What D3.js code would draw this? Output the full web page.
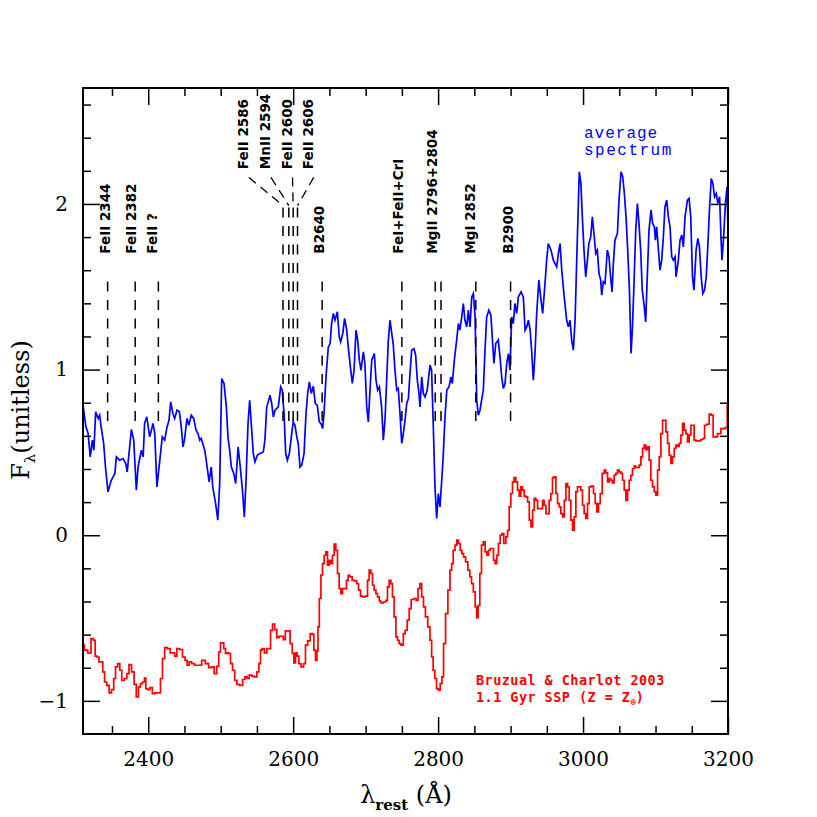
<!DOCTYPE html>
<html><head><meta charset="utf-8">
<script src="https://cdn.jsdelivr.net/npm/d3@7"></script>
<style>body{margin:0;background:#fff}svg{display:block}</style>
</head><body>
<script>
// ---- data ----
const blueWave = [2310,2314,2317,2320,2323,2325,2327.5,2331,2333,2335,2338.5,2341,2344.5,2349,2354,2356,2360.6,2365,2369,2371,2374.4,2376.7,2380,2383.6,2386,2390.5,2393,2395,2398,2402,2406.6,2409,2412,2416,2419.4,2422.7,2426,2428.7,2431,2434,2436.5,2439.7,2443,2445.6,2448,2450,2453.5,2456,2459.4,2462.7,2466,2468.7,2471,2473,2478,2480,2484,2487,2489,2493,2496,2498.6,2501.4,2504.6,2507.8,2510,2512.4,2514.7,2518,2520.7,2524,2527,2530,2532.6,2535,2537.7,2540,2542.8,2545,2547.3,2550.5,2554,2558.8,2561,2563.5,2565.7,2568,2570.4,2572.6,2575,2579.5,2582.8,2585,2587.4,2589.7,2592,2594.7,2598,2600,2602.5,2605,2607,2609.4,2611.8,2615,2617.7,2620,2622.3,2625,2627.8,2630.5,2633.3,2636,2638.4,2640.7,2642.6,2645.3,2648.5,2651,2653,2655.4,2657.7,2661,2663.6,2665.5,2668.4,2671,2673.9,2676,2678.4,2681.6,2684,2686.7,2689,2691.3,2693.6,2696.8,2699,2701.5,2703.7,2706,2708.4,2712,2714.3,2716.6,2719,2722,2724.4,2726.7,2729,2731.3,2733.6,2736,2738,2740.5,2742.9,2745,2747.4,2749.8,2752,2754.3,2756.7,2759,2761.2,2763.5,2766.7,2769,2771.3,2773.6,2775,2777.4,2779.6,2782,2785,2788.8,2791,2793.4,2795.7,2798,2800.3,2802.6,2805,2807,2809.5,2812,2815,2817.8,2819.6,2822.4,2825.6,2828,2830,2832.6,2834.8,2837,2839.5,2841.7,2844,2846.4,2848.6,2851,2853.3,2855.5,2857.8,2860,2862.4,2864.7,2867,2870,2872.8,2875.3,2877,2879.5,2883,2885.4,2887.7,2890,2892.3,2894.7,2897,2899.2,2901.5,2903.8,2906,2908.5,2910.7,2914.4,2917.6,2920,2922.3,2924.6,2927,2929,2931.4,2933.7,2936,2939,2942,2944.3,2947.5,2949.8,2952,2955.8,2959,2963.6,2966,2968.3,2970.6,2974,2977.4,2979.6,2982,2984.3,2986.6,2989,2991,2993,2994.8,2997,2999,3001.3,3003.7,3006,3008,3010.6,3012.8,3015,3017.5,3019.7,3022,3024.4,3025.7,3028,3030.3,3033.5,3035.8,3038,3040,3041.8,3044,3047.4,3049.6,3052.4,3054.7,3057,3059.3,3061.6,3064,3066.2,3068,3070.3,3072.7,3075,3077.2,3079.5,3081.7,3084.5,3086.4,3088.6,3091,3093.8,3096,3098.4,3099.8,3101.6,3104,3106.2,3108.5,3110.8,3113,3115.4,3117.7,3120,3122.3,3124.6,3127,3128.3,3131.5,3133.8,3136.2,3138.4,3140.7,3144,3146.3,3148.6,3151,3153,3156,3158.4,3160.6,3163,3165.3,3167.6,3170,3172.3,3174.6,3176.9,3179.2,3181.4,3183.8,3186,3188.4,3190.3,3191.7,3194,3196.4,3198.7,3200];
const blueFlux = [0.785,0.654,0.616,0.473,0.574,0.513,0.745,0.705,0.725,0.654,0.554,0.412,0.262,0.332,0.373,0.473,0.453,0.463,0.433,0.382,0.533,0.638,0.574,0.272,0.412,0.513,0.473,0.675,0.715,0.594,0.675,0.614,0.292,0.453,0.594,0.574,0.654,0.694,0.805,0.735,0.705,0.755,0.745,0.654,0.533,0.574,0.705,0.664,0.725,0.705,0.634,0.614,0.574,0.584,0.513,0.453,0.322,0.412,0.292,0.191,0.091,0.312,0.946,0.916,0.775,0.594,0.513,0.412,0.373,0.312,0.533,0.412,0.272,0.111,0.332,0.675,0.815,0.634,0.493,0.443,0.483,0.493,0.503,0.574,0.775,0.805,0.845,0.795,0.714,0.755,0.775,0.896,0.876,0.735,0.493,0.453,0.493,0.614,0.684,0.664,0.594,0.554,0.412,0.423,0.493,0.735,0.856,0.926,0.856,0.900,0.795,0.785,0.684,0.674,0.644,0.735,0.956,1.137,1.157,1.278,1.339,1.298,1.349,1.197,1.167,1.218,1.309,1.238,1.137,1.037,0.916,0.996,1.238,1.178,1.057,0.996,1.107,1.037,0.775,0.684,0.876,1.057,1.097,0.936,0.876,0.896,0.775,0.574,0.694,0.936,1.178,1.298,1.218,1.157,0.996,0.876,0.886,0.735,0.554,0.614,0.694,0.795,0.825,0.976,1.117,1.127,1.087,0.936,0.856,0.775,0.956,0.856,0.835,0.876,1.027,0.996,0.654,0.292,0.101,0.252,0.171,0.332,0.473,0.714,0.876,0.896,0.956,0.916,1.057,1.178,1.278,1.238,1.318,1.399,1.298,1.258,1.359,1.258,1.439,1.459,1.318,0.815,0.725,0.755,0.815,0.876,1.117,1.318,1.359,1.329,1.157,1.037,1.157,1.178,1.077,0.956,0.886,0.916,1.037,1.097,0.996,1.318,1.278,1.399,1.339,1.439,1.469,1.439,1.238,1.258,1.298,1.238,1.117,0.936,1.097,1.339,1.540,1.419,1.339,1.520,1.661,1.761,1.721,1.661,1.620,1.701,1.761,1.600,1.439,1.298,1.258,1.298,1.178,1.117,1.298,1.620,1.922,2.194,2.124,1.922,1.721,1.560,1.661,1.761,1.801,1.922,1.822,1.701,1.721,1.580,1.540,1.449,1.530,1.520,1.721,1.681,1.560,1.469,1.641,1.781,1.822,2.023,2.194,2.164,2.063,1.922,1.721,1.479,1.097,1.238,1.520,1.842,2.003,1.880,1.720,1.479,1.379,1.288,1.560,1.842,1.963,1.882,1.862,1.781,1.862,1.721,1.600,1.661,1.801,1.982,2.023,1.922,1.862,1.681,1.661,1.681,1.560,1.661,1.781,1.812,1.741,1.922,2.023,2.033,1.922,1.560,1.479,1.721,1.792,1.741,1.560,1.459,1.479,1.560,1.761,1.982,2.154,2.124,2.043,2.063,2.003,2.043,1.801,1.661,1.801,2.003,2.103,1.842];

const redWave = [2310,2314,2319,2323,2326,2327.5,2331,2333,2336,2338.5,2341,2344.5,2347.7,2351,2353.7,2356,2359.7,2362,2365,2369,2372,2375,2379,2382,2385,2388,2390.5,2393.7,2396,2397.4,2401,2404,2407.5,2411,2415.8,2418,2421.4,2424,2428.7,2432,2435,2438,2441,2445.6,2449,2452.6,2455,2458,2462,2466,2471,2476.5,2481,2485.7,2489,2493,2496,2498.6,2500.8,2503,2505.5,2507.8,2510,2512.4,2514.7,2518,2520.7,2524,2528.5,2532,2535,2537.7,2541,2544.6,2548.3,2551.5,2553.8,2556,2558.4,2562,2565.3,2567.6,2570,2573,2576,2579,2582,2585,2587.8,2590.6,2594,2597.5,2600,2602,2604.4,2606.7,2609,2612.6,2616,2618,2622,2625,2627.4,2629.7,2632,2633.5,2635,2637.2,2639.4,2641.6,2644,2646.3,2648.5,2650.8,2653.2,2655.4,2657.7,2660,2662.3,2664.6,2667,2669.2,2672.5,2674.7,2677,2679.8,2683,2686.3,2689,2691.3,2694.6,2698,2701.5,2703.7,2706,2708.4,2710.6,2713,2715.3,2717.6,2720,2722,2726.7,2729,2731.3,2733.6,2736,2738,2740.5,2743,2745,2747.4,2750.6,2753.4,2755.7,2759,2761.2,2764.4,2768,2771,2773.6,2776,2778.7,2781,2784,2787.4,2790.2,2792,2794.3,2796.7,2799,2801.7,2804,2806.4,2808.6,2812,2815,2817.8,2819.6,2822,2824.7,2827,2829.3,2831.6,2834,2836.2,2839.5,2842.6,2845,2847.2,2850,2852.3,2854,2856.4,2858.7,2861,2863.7,2866,2868.4,2870.6,2873,2875.3,2877.5,2879.9,2882,2884.5,2886.8,2889,2892.3,2894.7,2897,2899.2,2901.5,2903.8,2906,2908.5,2910.7,2913,2915.4,2917.6,2920,2922.3,2924.6,2927,2929.3,2931.5,2933.7,2936,2938.5,2940.6,2943,2945.3,2947.5,2950,2952,2954.4,2956.7,2959,2961.3,2963.6,2966,2968.2,2970.6,2973,2975.2,2977.5,2979.7,2982,2984.3,2986.6,2989,2991.2,2993.5,2995.8,2998,3000.4,3002.7,3005,3007.3,3009.6,3013.3,3015.5,3018,3020,3022.6,3024.8,3028,3030.3,3032.6,3035,3037.3,3039.5,3041.8,3044,3046.4,3048.7,3051,3053.3,3055.6,3058,3060.3,3062.5,3064.8,3067,3069.4,3071.7,3074,3076.3,3078.6,3081,3083.2,3085.5,3087.8,3090,3092.4,3094.7,3097,3099.4,3101.6,3104,3106.2,3108.6,3110.8,3113,3115.5,3117.7,3120,3122.3,3124.6,3127,3129.3,3131.5,3133.8,3136.2,3138.4,3140.7,3143,3145.3,3147.6,3150,3152,3154.5,3156.9,3161.4,3163.7,3167,3168.3,3172.9,3175.2,3178.3,3180.7,3184.4,3186.7,3189,3191.4,3194.6,3198,3200];
const redFlux = [-0.664,-0.694,-0.71,-0.624,-0.634,-0.73,-0.735,-0.765,-0.765,-0.825,-0.886,-0.906,-0.952,-0.932,-0.865,-0.795,-0.775,-0.815,-0.876,-0.865,-0.835,-0.781,-0.825,-0.9,-0.976,-0.916,-0.896,-0.886,-0.862,-0.926,-0.932,-0.92,-0.956,-0.952,-0.952,-0.865,-0.745,-0.678,-0.684,-0.71,-0.71,-0.73,-0.684,-0.69,-0.735,-0.755,-0.785,-0.765,-0.775,-0.785,-0.785,-0.755,-0.775,-0.799,-0.795,-0.835,-0.791,-0.705,-0.65,-0.65,-0.684,-0.714,-0.71,-0.714,-0.775,-0.815,-0.876,-0.9,-0.906,-0.871,-0.855,-0.865,-0.845,-0.851,-0.855,-0.825,-0.775,-0.694,-0.684,-0.71,-0.684,-0.684,-0.574,-0.537,-0.57,-0.618,-0.61,-0.61,-0.63,-0.578,-0.578,-0.654,-0.714,-0.771,-0.71,-0.73,-0.775,-0.795,-0.775,-0.664,-0.638,-0.594,-0.598,-0.694,-0.755,-0.70,-0.553,-0.382,-0.24,-0.171,-0.121,-0.101,-0.181,-0.151,-0.171,-0.121,-0.054,-0.091,-0.231,-0.322,-0.352,-0.322,-0.322,-0.272,-0.242,-0.252,-0.272,-0.276,-0.292,-0.332,-0.368,-0.372,-0.368,-0.272,-0.211,-0.231,-0.302,-0.332,-0.352,-0.372,-0.397,-0.409,-0.403,-0.393,-0.312,-0.272,-0.292,-0.372,-0.493,-0.614,-0.634,-0.654,-0.664,-0.594,-0.574,-0.513,-0.443,-0.388,-0.382,-0.393,-0.322,-0.292,-0.372,-0.433,-0.493,-0.553,-0.634,-0.735,-0.815,-0.865,-0.926,-0.936,-0.896,-0.855,-0.654,-0.473,-0.332,-0.211,-0.171,-0.091,-0.06,-0.03,-0.05,-0.091,-0.111,-0.131,-0.161,-0.211,-0.252,-0.292,-0.342,-0.433,-0.497,-0.423,-0.231,-0.06,-0.04,-0.101,-0.121,-0.091,-0.08,-0.08,-0.151,-0.171,-0.121,-0.05,0.0,0.01,-0.05,-0.01,0.03,0.171,0.252,0.322,0.348,0.322,0.272,0.236,0.292,0.272,0.236,0.232,0.201,0.091,0.05,0.151,0.222,0.211,0.161,0.161,0.161,0.211,0.181,0.131,0.131,0.211,0.252,0.348,0.352,0.252,0.191,0.171,0.131,0.111,0.211,0.312,0.292,0.211,0.091,0.03,0.111,0.262,0.292,0.292,0.272,0.181,0.131,0.101,0.191,0.292,0.296,0.252,0.191,0.141,0.191,0.252,0.373,0.393,0.376,0.322,0.342,0.332,0.316,0.362,0.373,0.393,0.382,0.373,0.332,0.272,0.211,0.272,0.332,0.362,0.403,0.417,0.409,0.409,0.423,0.473,0.524,0.544,0.517,0.533,0.453,0.332,0.292,0.262,0.242,0.393,0.473,0.614,0.694,0.694,0.624,0.554,0.483,0.433,0.473,0.524,0.544,0.537,0.554,0.604,0.675,0.634,0.614,0.563,0.604,0.664,0.664,0.574,0.57,0.57,0.578,0.584,0.664,0.67,0.731,0.725,0.594,0.594,0.614,0.614,0.644,0.644,0.65,0.785];

const xMajorTicks = [2400, 2600, 2800, 3000, 3200];
const yMajorTicks = [-1, 0, 1, 2];

// absorption-line annotations
const lineNames = ["FeII 2344","FeII 2382","FeII ?","FeII 2586","MnII 2594","FeII 2600","FeII 2606","B2640","FeI+FeII+CrI","MgII 2796+2804","MgI 2852","B2900"];
const lineWaves = [[2344],[2382],[2414],[2586],[2594],[2600],[2606],[2640],[2750],[2796,2804],[2852],[2900]];
const labelWaves = [2347,2383,2412,2537.5,2568,2597.7,2627,2643,2751.6,2798,2851,2903];
const isCluster = [false,false,false,true,true,true,true,false,false,false,false,false];

// ---- layout ----
const W = 817, H = 817;
const m = {l: 83, r: 89, t: 88, b: 83};
const svg = d3.select("body").append("svg").attr("width", W).attr("height", H);
const x = d3.scaleLinear().domain([2310, 3200]).range([m.l, W - m.r]);
const y = d3.scaleLinear().domain([-1.2, 2.7]).range([H - m.b, m.t]);

svg.append("defs").append("clipPath").attr("id", "clip")
  .append("rect").attr("x", m.l).attr("y", m.t)
  .attr("width", W - m.r - m.l).attr("height", H - m.b - m.t);

// spectra
const red = redWave.map((w, i) => [w, redFlux[i]]);
const blue = blueWave.map((w, i) => [w, blueFlux[i]]);
const g = svg.append("g").attr("clip-path", "url(#clip)");
g.append("path").datum(red)
  .attr("d", d3.line().x(d => x(d[0])).y(d => y(d[1])).curve(d3.curveStep))
  .attr("fill", "none").attr("stroke", "#ff0000").attr("stroke-width", 1.7);
g.append("path").datum(blue)
  .attr("d", d3.line().x(d => x(d[0])).y(d => y(d[1])))
  .attr("fill", "none").attr("stroke", "#0000ff").attr("stroke-width", 1.7);

// dashed line markers
const ann = svg.append("g");
const dash = "10,8.5";
lineNames.forEach((name, i) => {
  const bottom = 0.69;
  const top = isCluster[i] ? 1.98 : 1.57;
  lineWaves[i].forEach(w => {
    ann.append("line").attr("x1", x(w)).attr("x2", x(w))
      .attr("y1", y(bottom)).attr("y2", y(top))
      .attr("stroke", "#000").attr("stroke-width", 1.5).attr("stroke-dasharray", dash);
  });
  const ly = isCluster[i] ? 2.21 : 1.70;
  if (isCluster[i]) {
    ann.append("line").attr("x1", x(labelWaves[i]) + 1).attr("y1", y(2.16))
      .attr("x2", x(lineWaves[i][0])).attr("y2", y(1.99))
      .attr("stroke", "#000").attr("stroke-width", 1.3).attr("stroke-dasharray", "9,6");
  }
  ann.append("text")
    .attr("transform", `translate(${x(labelWaves[i])},${y(ly)}) rotate(-90)`)
    .attr("font-family", "DejaVu Sans").attr("font-weight", "bold")
    .attr("font-size", 13.5).attr("fill", "#000").text(name);
});

// axes
function axisG(gen, tr) {
  const a = svg.append("g").attr("transform", tr).call(gen);
  a.select(".domain").remove();
  a.selectAll(".tick line").attr("stroke", "#000").attr("stroke-width", 1.5);
  return a;
}
const xMinor = d3.range(2350, 3200, 50).filter(v => v % 200 !== 0);
const yMinor = d3.range(-12, 27, 2).map(v => +(v / 10).toFixed(1)).filter(v => !Number.isInteger(v) && v > -1.2 && v < 2.7);

const fmt = d => d3.format("d")(d);
const xb = axisG(d3.axisBottom(x).tickValues(xMajorTicks).tickSize(-17).tickPadding(18).tickFormat(fmt), `translate(0,${H - m.b})`);
axisG(d3.axisBottom(x).tickValues(xMinor).tickSize(-8).tickFormat(""), `translate(0,${H - m.b})`);
axisG(d3.axisTop(x).tickValues(xMajorTicks).tickSize(-17).tickFormat(""), `translate(0,${m.t})`);
axisG(d3.axisTop(x).tickValues(xMinor).tickSize(-8).tickFormat(""), `translate(0,${m.t})`);
const yl = axisG(d3.axisLeft(y).tickValues(yMajorTicks).tickSize(-17).tickPadding(15).tickFormat(d => d < 0 ? "\u2212" + Math.abs(d) : d), `translate(${m.l},0)`);
axisG(d3.axisLeft(y).tickValues(yMinor).tickSize(-8).tickFormat(""), `translate(${m.l},0)`);
axisG(d3.axisRight(y).tickValues(yMajorTicks).tickSize(-17).tickFormat(""), `translate(${W - m.r},0)`);
axisG(d3.axisRight(y).tickValues(yMinor).tickSize(-8).tickFormat(""), `translate(${W - m.r},0)`);
[xb, yl].forEach(a => a.selectAll("text").attr("font-family", "DejaVu Serif").attr("font-size", 20).attr("fill", "#000"));

svg.append("rect").attr("x", m.l).attr("y", m.t)
  .attr("width", W - m.r - m.l).attr("height", H - m.b - m.t)
  .attr("fill", "none").attr("stroke", "#000").attr("stroke-width", 2);

// axis titles
const xt = svg.append("text").attr("x", 406).attr("y", 803).attr("text-anchor", "middle")
  .attr("font-family", "DejaVu Serif").attr("font-size", 24).attr("fill", "#000");
xt.append("tspan").text("\u03bb");
xt.append("tspan").attr("dy", 7).attr("font-size", 15).attr("font-weight", "bold").text("rest");
xt.append("tspan").attr("dy", -7).text(" (\u00c5)");

const yt = svg.append("text").attr("transform", "translate(29,410) rotate(-90)").attr("text-anchor", "middle")
  .attr("font-family", "DejaVu Serif").attr("font-size", 24).attr("fill", "#000");
yt.append("tspan").text("F");
yt.append("tspan").attr("dy", 6).attr("font-size", 15).text("\u03bb");
yt.append("tspan").attr("dy", -6).text("(unitless)");

// legends
svg.append("text").attr("x", 584).attr("y", 138)
  .attr("font-family", "Liberation Mono").attr("font-size", 16).attr("letter-spacing", 1)
  .attr("fill", "#0000ff").text("average");
svg.append("text").attr("x", 584).attr("y", 155)
  .attr("font-family", "Liberation Mono").attr("font-size", 16).attr("letter-spacing", 1.5)
  .attr("fill", "#0000ff").text("spectrum");

const rl1 = svg.append("text").attr("font-family", "DejaVu Sans Mono").attr("font-weight", "bold").attr("font-size", 13.5).attr("fill", "#ff0000");
rl1.append("tspan").attr("x", 476).attr("y", 685).attr("letter-spacing", 0.45).text("Bruzual & Charlot 2003");
const rl2 = svg.append("text").attr("font-family", "DejaVu Sans Mono").attr("font-weight", "bold").attr("font-size", 13.5).attr("fill", "#ff0000");
rl2.append("tspan").attr("x", 476).attr("y", 702).attr("letter-spacing", 0.45).text("1.1 Gyr SSP (Z = Z");
rl2.append("tspan").attr("dy", 3).attr("font-size", 9).text("\u2299");
rl2.append("tspan").attr("dy", -3).text(")");
</script>
</body></html>
